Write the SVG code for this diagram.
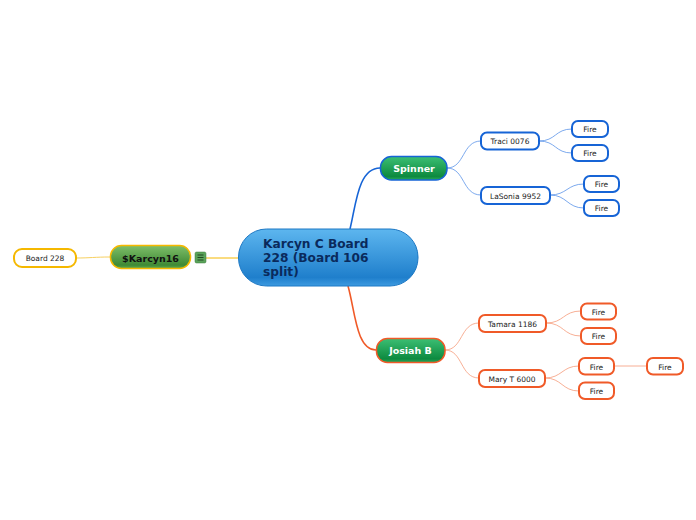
<svg xmlns="http://www.w3.org/2000/svg" width="696" height="520" viewBox="0 0 696 520">
<defs>
<linearGradient id="gBlue" x1="0" y1="0" x2="0" y2="1">
<stop offset="0" stop-color="#5db6ef"/><stop offset="0.85" stop-color="#1f7fcc"/><stop offset="1" stop-color="#3d9ae0"/>
</linearGradient>
<linearGradient id="gGreen" x1="0" y1="0" x2="0" y2="1">
<stop offset="0" stop-color="#3cbf74"/><stop offset="0.85" stop-color="#0d8a3f"/><stop offset="1" stop-color="#2aa85c"/>
</linearGradient>
<linearGradient id="gOlive" x1="0" y1="0" x2="0" y2="1">
<stop offset="0" stop-color="#7fbf6a"/><stop offset="0.85" stop-color="#3f8a35"/><stop offset="1" stop-color="#5ea94f"/>
</linearGradient>
</defs>
<style>
text{font-family:"DejaVu Sans","Noto Sans",sans-serif;text-anchor:middle}
.leaf{fill:#fff;stroke-width:2}
.b{stroke:#1664d6}
.o{stroke:#f05a28}
.y{stroke:#f5b800}
.lt{font-size:7.5px;fill:#222}
.mt{font-size:9.5px;font-weight:bold;fill:#fff}
.ct{text-anchor:start;font-size:12.2px;font-weight:bold;fill:#0a2a5c}
.c{fill:none}
</style>
<rect width="696" height="520" fill="#fff"/>
<g id="connectors" class="c">
<path d="M350,229 C356,205 358,168 380,168" stroke="#1664d6" stroke-width="1.6"/>
<path d="M348,286 C355,310 356,350 376,350" stroke="#f05a28" stroke-width="1.6"/>
<path d="M206,258 L238,258" stroke="#f5b800" stroke-width="1"/>
<path d="M76,258 C90,258 95,257 110,257" stroke="#f7d060" stroke-width="1"/>
<g stroke="#5b93e8" stroke-width="0.8">
<path d="M447,168 C465,168 462,141 481,141"/>
<path d="M447,168 C465,168 462,195 481,195"/>
<path d="M539,141 C556,141 555,129 572,129"/>
<path d="M539,141 C556,141 555,153 572,153"/>
<path d="M550,195 C567,195 567,184 584,184"/>
<path d="M550,195 C567,195 567,208 584,208"/>
</g>
<g stroke="#f59a7a" stroke-width="0.8">
<path d="M445,350 C463,350 460,323 479,323"/>
<path d="M445,350 C463,350 460,378 479,378"/>
<path d="M546,323 C564,323 563,311 581,311"/>
<path d="M546,323 C564,323 563,336 581,336"/>
<path d="M545,378 C562,378 562,366 579,366"/>
<path d="M545,378 C562,378 562,391 579,391"/>
<path d="M614,366 L647,366"/>
</g>
</g>
<g id="central">
<rect x="238.5" y="229" width="179.5" height="57" rx="28" fill="url(#gBlue)" stroke="#1d78c4" stroke-width="1"/>
<text x="263" y="248" class="ct">Karcyn C Board</text>
<text x="263" y="262" class="ct">228 (Board 106</text>
<text x="263" y="276" class="ct">split)</text>
</g>
<g id="karcyn16">
<rect x="110.5" y="245.5" width="80" height="23" rx="11" fill="url(#gOlive)" stroke="#f5b800" stroke-width="1.5"/>
<text x="150.5" y="261.5" style="font-size:9.5px;font-weight:bold;fill:#111">$Karcyn16</text>
</g>
<g id="note-icon">
<rect x="195" y="252" width="11" height="11" rx="1.5" fill="#5aa35a" stroke="#3d7f3d" stroke-width="0.5"/>
<path d="M197.5,255 H203.5 M197.5,257.5 H203.5 M197.5,260 H203.5" stroke="#1d3d1d" stroke-width="0.9"/>
</g>
<g id="board228">
<rect x="14" y="249" width="62" height="18" rx="8" class="leaf y"/>
<text x="45" y="261" class="lt">Board 228</text>
</g>
<g id="spinner">
<rect x="380.5" y="156.5" width="66.5" height="23.5" rx="11" fill="url(#gGreen)" stroke="#1664d6" stroke-width="1.5"/>
<text x="414" y="171.5" class="mt">Spinner</text>
</g>
<g id="traci">
<rect x="481" y="132.5" width="58" height="17" rx="6" class="leaf b"/>
<text x="510" y="144" class="lt">Traci 0076</text>
</g>
<g id="lasonia">
<rect x="481" y="187" width="69" height="17" rx="6" class="leaf b"/>
<text x="515.5" y="198.5" class="lt">LaSonia 9952</text>
</g>
<g id="fire1"><rect x="572" y="121" width="36" height="16" rx="6" class="leaf b"/><text x="590" y="132" class="lt">Fire</text></g>
<g id="fire2"><rect x="572" y="145" width="36" height="16" rx="6" class="leaf b"/><text x="590" y="156" class="lt">Fire</text></g>
<g id="fire3"><rect x="584" y="176" width="35" height="16" rx="6" class="leaf b"/><text x="601.5" y="187" class="lt">Fire</text></g>
<g id="fire4"><rect x="584" y="200" width="35" height="16" rx="6" class="leaf b"/><text x="601.5" y="211" class="lt">Fire</text></g>
<g id="josiah">
<rect x="376.5" y="338.5" width="68.5" height="24" rx="11" fill="url(#gGreen)" stroke="#f05a28" stroke-width="1.5"/>
<text x="410.5" y="354" class="mt">Josiah B</text>
</g>
<g id="tamara">
<rect x="479" y="315" width="67" height="17" rx="6" class="leaf o"/>
<text x="512.5" y="326.5" class="lt">Tamara 1186</text>
</g>
<g id="mary">
<rect x="479" y="370" width="66" height="17" rx="6" class="leaf o"/>
<text x="512" y="381.5" class="lt">Mary T 6000</text>
</g>
<g id="fire5"><rect x="581" y="303.5" width="35" height="16" rx="6" class="leaf o"/><text x="598.5" y="314.5" class="lt">Fire</text></g>
<g id="fire6"><rect x="581" y="328" width="35" height="16" rx="6" class="leaf o"/><text x="598.5" y="339" class="lt">Fire</text></g>
<g id="fire7"><rect x="579" y="358" width="35" height="16.5" rx="6" class="leaf o"/><text x="596.5" y="369.5" class="lt">Fire</text></g>
<g id="fire8"><rect x="579" y="382.5" width="35" height="16.5" rx="6" class="leaf o"/><text x="596.5" y="394" class="lt">Fire</text></g>
<g id="fire9"><rect x="647" y="358" width="36" height="16.5" rx="6" class="leaf o"/><text x="665" y="369.5" class="lt">Fire</text></g>
</svg>
